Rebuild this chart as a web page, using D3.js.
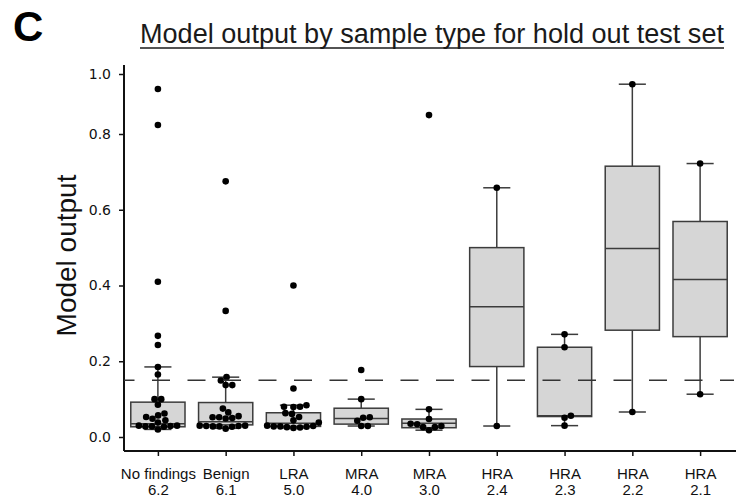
<!DOCTYPE html>
<html>
<head>
<meta charset="utf-8">
<script src="https://cdnjs.cloudflare.com/ajax/libs/d3/7.8.5/d3.min.js"></script>
<style>
  body { margin: 0; background: #fff; }
</style>
</head>
<body>
<div id="chart"></div>
<script>
// categories and tick labels
var categories = ["No findings", "Benign", "LRA", "MRA", "MRA", "HRA", "HRA", "HRA", "HRA"];
var scores = ["6.2", "6.1", "5.0", "4.0", "3.0", "2.4", "2.3", "2.2", "2.1"];
var yTicks = [0, 0.2, 0.4, 0.6, 0.8, 1.0];

// box statistics
var q1 = [0.027, 0.032, 0.028, 0.034, 0.0245, 0.186, 0.054, 0.282, 0.265];
var medians = [0.035, 0.040, 0.036, 0.049, 0.036, 0.344, 0.056, 0.498, 0.416];
var q3 = [0.092, 0.091, 0.064, 0.076, 0.0475, 0.500, 0.237, 0.715, 0.569];
var whiskerLow = [0.020, 0.023, 0.024, 0.029, 0.018, 0.029, 0.030, 0.066, 0.113];
var whiskerHigh = [0.185, 0.158, 0.084, 0.100, 0.073, 0.658, 0.271, 0.966, 0.722];

// individual samples per group
var ptsNoFindings = [0.95, 0.83, 0.41, 0.267, 0.243, 0.185, 0.165, 0.1, 0.1, 0.085, 0.062, 0.057, 0.053, 0.048, 0.044, 0.038, 0.03, 0.03, 0.029, 0.028, 0.028, 0.027, 0.02];
var ptsBenign = [0.675, 0.333, 0.158, 0.149, 0.137, 0.137, 0.075, 0.065, 0.055, 0.052, 0.052, 0.05, 0.049, 0.03, 0.03, 0.029, 0.029, 0.028, 0.028, 0.027, 0.022];
var ptsLRA = [0.40, 0.128, 0.084, 0.08, 0.08, 0.079, 0.063, 0.061, 0.053, 0.044, 0.038, 0.03, 0.029, 0.028, 0.028, 0.027, 0.026, 0.025, 0.024];
var ptsMRA4 = [0.177, 0.10, 0.052, 0.051, 0.043, 0.029, 0.029];
var ptsMRA3 = [0.863, 0.073, 0.0475, 0.035, 0.0335, 0.029, 0.026, 0.026, 0.018];
var ptsHRA24 = [0.658, 0.029];
var ptsHRA23 = [0.271, 0.237, 0.056, 0.051, 0.030];
var ptsHRA22 = [0.966, 0.066];
var ptsHRA21 = [0.722, 0.113];
var groupPoints = [ptsNoFindings, ptsBenign, ptsLRA, ptsMRA4, ptsMRA3, ptsHRA24, ptsHRA23, ptsHRA22, ptsHRA21];

var threshold = 0.15;

var svgWidth = 742;
var svgHeight = 498;
var font = "Liberation Sans, Arial, sans-serif";

var svg = d3.select("#chart")
  .append("svg")
  .attr("width", svgWidth)
  .attr("height", svgHeight);

var axisLeftX = 124;
var axisBottomY = 451;
var plotRight = 734;

var xScale = d3.scalePoint()
  .domain(d3.range(categories.length))
  .range([axisLeftX, plotRight])
  .padding(0.5);

// the original axis is compressed above 0.8
var yScale = d3.scaleLinear()
  .domain([0, 0.8, 1.0])
  .range([437, 134, 74]);

var boxWidth = xScale.step() * 0.8;
var capWidth = boxWidth / 2;
var r = 3.3;

// panel letter and title
svg.append("text")
  .attr("x", 13)
  .attr("y", 41)
  .attr("font-family", font)
  .attr("font-size", 42)
  .attr("font-weight", "bold")
  .attr("fill", "#000")
  .text("C");

svg.append("text")
  .attr("x", 432)
  .attr("y", 43)
  .attr("text-anchor", "middle")
  .attr("font-family", font)
  .attr("font-size", 27)
  .attr("fill", "#1a1a1a")
  .attr("textLength", 584)
  .attr("lengthAdjust", "spacingAndGlyphs")
  .text("Model output by sample type for hold out test set");

svg.append("line")
  .attr("x1", 140).attr("x2", 724)
  .attr("y1", 48).attr("y2", 48)
  .attr("stroke", "#1a1a1a")
  .attr("stroke-width", 1.5);

// axes
var yAxis = d3.axisLeft(yScale)
  .tickValues(yTicks)
  .tickFormat(d3.format(".1f"))
  .tickSize(5)
  .tickPadding(8)
  .tickSizeOuter(0);

var yG = svg.append("g")
  .attr("transform", `translate(${axisLeftX},0)`)
  .call(yAxis);
yG.select(".domain").remove();
yG.selectAll("line").attr("stroke", "#111").attr("stroke-width", 1.5);
yG.selectAll("text")
  .attr("font-family", "DejaVu Sans, sans-serif")
  .attr("font-size", 14)
  .attr("fill", "#111");

var xAxis = d3.axisBottom(xScale)
  .tickSize(5)
  .tickFormat("")
  .tickSizeOuter(0);

var xG = svg.append("g")
  .attr("transform", `translate(0,${axisBottomY})`)
  .call(xAxis);
xG.select(".domain").remove();
xG.selectAll("line").attr("stroke", "#111").attr("stroke-width", 1.5);

var xLabels = xG.selectAll(".tick").append("text")
  .attr("text-anchor", "middle")
  .attr("fill", "#111")
  .attr("font-family", font)
  .attr("font-size", 15);
xLabels.append("tspan")
  .attr("x", 0).attr("y", 28)
  .text(d => categories[d]);
xLabels.append("tspan")
  .attr("x", 0).attr("y", 44)
  .text(d => scores[d]);

// spines
svg.append("line")
  .attr("x1", axisLeftX).attr("x2", axisLeftX)
  .attr("y1", 65).attr("y2", axisBottomY)
  .attr("stroke", "#111").attr("stroke-width", 2);
svg.append("line")
  .attr("x1", axisLeftX).attr("x2", plotRight + 2)
  .attr("y1", axisBottomY).attr("y2", axisBottomY)
  .attr("stroke", "#111").attr("stroke-width", 2);

svg.append("text")
  .attr("transform", `translate(76, ${(yScale(0) + yScale(1)) / 2}) rotate(-90)`)
  .attr("text-anchor", "middle")
  .attr("font-family", font)
  .attr("font-size", 28)
  .attr("fill", "#111")
  .text("Model output");

// boxes
var boxColor = "#3c3c3c";
var groups = svg.append("g").selectAll("g")
  .data(d3.range(categories.length))
  .enter()
  .append("g")
  .attr("transform", d => `translate(${xScale(d)},0)`);

groups.append("line")
  .attr("x1", 0).attr("x2", 0)
  .attr("y1", d => yScale(q3[d])).attr("y2", d => yScale(whiskerHigh[d]))
  .attr("stroke", boxColor).attr("stroke-width", 1.5);
groups.append("line")
  .attr("x1", 0).attr("x2", 0)
  .attr("y1", d => yScale(q1[d])).attr("y2", d => yScale(whiskerLow[d]))
  .attr("stroke", boxColor).attr("stroke-width", 1.5);
groups.append("line")
  .attr("x1", -capWidth / 2).attr("x2", capWidth / 2)
  .attr("y1", d => yScale(whiskerHigh[d])).attr("y2", d => yScale(whiskerHigh[d]))
  .attr("stroke", boxColor).attr("stroke-width", 1.5);
groups.append("line")
  .attr("x1", -capWidth / 2).attr("x2", capWidth / 2)
  .attr("y1", d => yScale(whiskerLow[d])).attr("y2", d => yScale(whiskerLow[d]))
  .attr("stroke", boxColor).attr("stroke-width", 1.5);
groups.append("rect")
  .attr("x", -boxWidth / 2)
  .attr("width", boxWidth)
  .attr("y", d => yScale(q3[d]))
  .attr("height", d => yScale(q1[d]) - yScale(q3[d]))
  .attr("fill", "#d6d6d6")
  .attr("stroke", boxColor)
  .attr("stroke-width", 1.5);
groups.append("line")
  .attr("x1", -boxWidth / 2).attr("x2", boxWidth / 2)
  .attr("y1", d => yScale(medians[d])).attr("y2", d => yScale(medians[d]))
  .attr("stroke", boxColor).attr("stroke-width", 1.5);

// threshold line
svg.append("line")
  .attr("x1", axisLeftX).attr("x2", plotRight)
  .attr("y1", yScale(threshold)).attr("y2", yScale(threshold))
  .attr("stroke", "#333")
  .attr("stroke-width", 1.4)
  .attr("stroke-dasharray", "18,17.5")
  .attr("stroke-dashoffset", 7.5);

// simple beeswarm: place points low to high, nearest free spot to centre
function swarm(values) {
  var pts = values.map(v => ({ v: v, y: yScale(v), dx: 0 }))
    .sort((a, b) => b.y - a.y);
  var placed = [];
  var d = 2 * r;
  pts.forEach(function(p) {
    var cands = [0];
    placed.forEach(function(q) {
      var dy = p.y - q.y;
      if (Math.abs(dy) < d) {
        var off = Math.sqrt(d * d - dy * dy);
        cands.push(q.dx + off, q.dx - off);
      }
    });
    cands.sort((a, b) => Math.abs(a) - Math.abs(b));
    for (var i = 0; i < cands.length; i++) {
      var c = cands[i];
      var ok = placed.every(function(q) {
        var ex = c - q.dx, ey = p.y - q.y;
        return ex * ex + ey * ey >= d * d - 0.01;
      });
      if (ok) { p.dx = c; break; }
    }
    placed.push(p);
  });
  return placed;
}

groups.each(function(gi) {
  d3.select(this).selectAll("circle")
    .data(swarm(groupPoints[gi]))
    .enter()
    .append("circle")
    .attr("cx", p => p.dx)
    .attr("cy", p => p.y)
    .attr("r", r)
    .attr("fill", "#000");
});
</script>
</body>
</html>
